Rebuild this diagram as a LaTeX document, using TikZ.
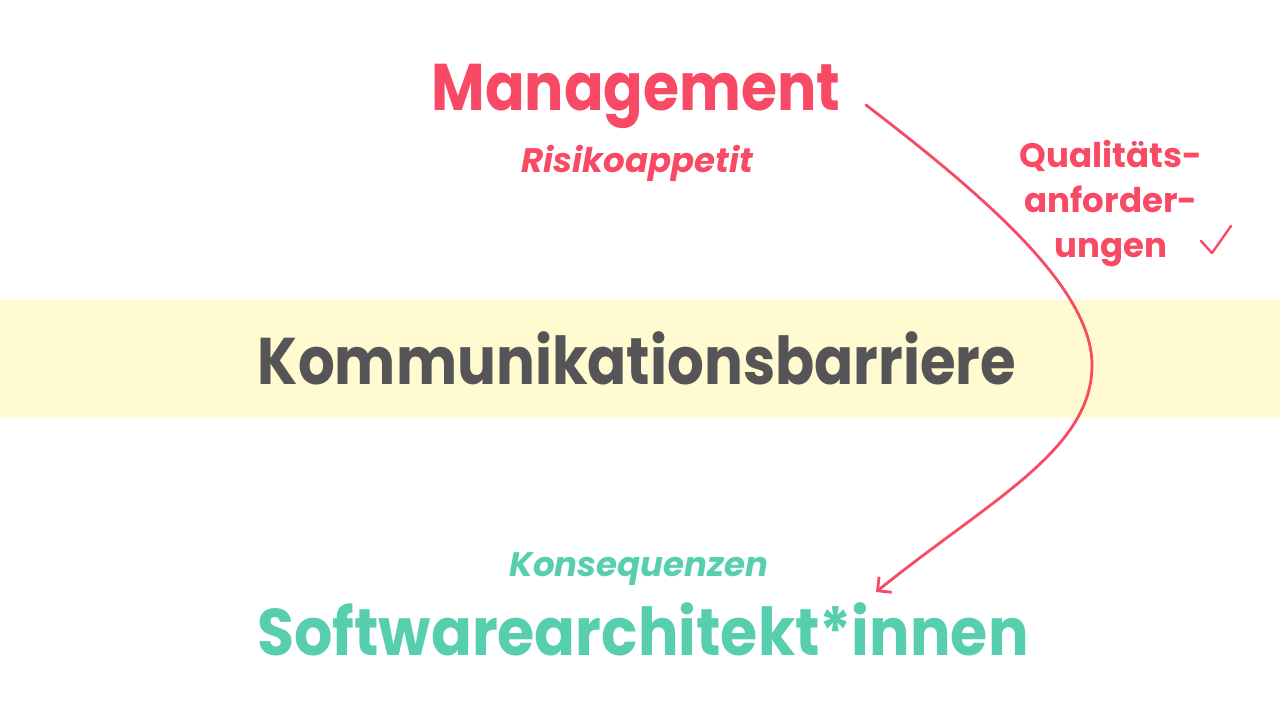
\documentclass[tikz,border=0pt]{standalone}
\usepackage{graphicx}
\usepackage{fontspec}
\setmainfont{Poppins}
\usetikzlibrary{arrows.meta}
\definecolor{mgmtred}{HTML}{F84A64}
\definecolor{archteal}{HTML}{57CFAE}
\definecolor{barrier}{HTML}{555558}
\definecolor{bandyellow}{HTML}{FFFAD0}
% narrow a heading horizontally
\newcommand{\narrowby}[2]{\scalebox{#1}[1]{#2}}
\tikzset{
  title/.style={anchor=base, inner sep=0pt, font=\fontsize{66}{66}\selectfont\bfseries},
  subtitle/.style={anchor=base, inner sep=0pt, font=\fontsize{34}{34}\selectfont\bfseries\itshape},
  side/.style={anchor=base, inner sep=0pt, align=center, font=\fontsize{34}{45}\selectfont\bfseries},
  flow/.style={draw=mgmtred, line width=2.8pt, line cap=round, line join=round},
}
\begin{document}
\begin{tikzpicture}[x=1pt, y=-1pt]
  \useasboundingbox (0,0) rectangle (1280,720);
  % barrier band
  \fill[bandyellow] (0,300) rectangle (1280,418);
  \node[title, text=barrier] (barrier) at (637,384) {\narrowby{0.875}{Kommunikationsbarriere}};
  % management side
  \node[title, text=mgmtred] (mgmt) at (636,110) {\narrowby{0.885}{Management}};
  \node[subtitle, text=mgmtred] (risk) at (637,172) {Risikoappetit};
  \node[side, text=mgmtred, anchor=north] (quality) at (1111,140) {Qualitäts-\\anforder-\\ungen};
  \coordinate (tickA) at (1201,241);
  \coordinate (tickB) at (1212,253);
  \coordinate (tickC) at (1231,226);
  \draw[flow, line width=2.4pt] (tickA) -- (tickB) -- (tickC);
  % architects side
  \node[subtitle, text=archteal] (cons) at (639,576) {Konsequenzen};
  \node[title, text=archteal] (arch) at (643,655) {\narrowby{0.913}{Softwarearchitekt*innen}};
  % flow from management to architects
  \coordinate (start) at (866,105);
  \coordinate (turn) at (1092,365);
  \coordinate (end) at (876,592);
  \draw[flow, -{Straight Barb[length=10pt, width=20pt, line width=2.8pt]}]
    (start) .. controls (990,200) and (1092,290) .. (turn)
    .. controls (1092,450) and (990,500) .. (end);
\end{tikzpicture}
\end{document}
